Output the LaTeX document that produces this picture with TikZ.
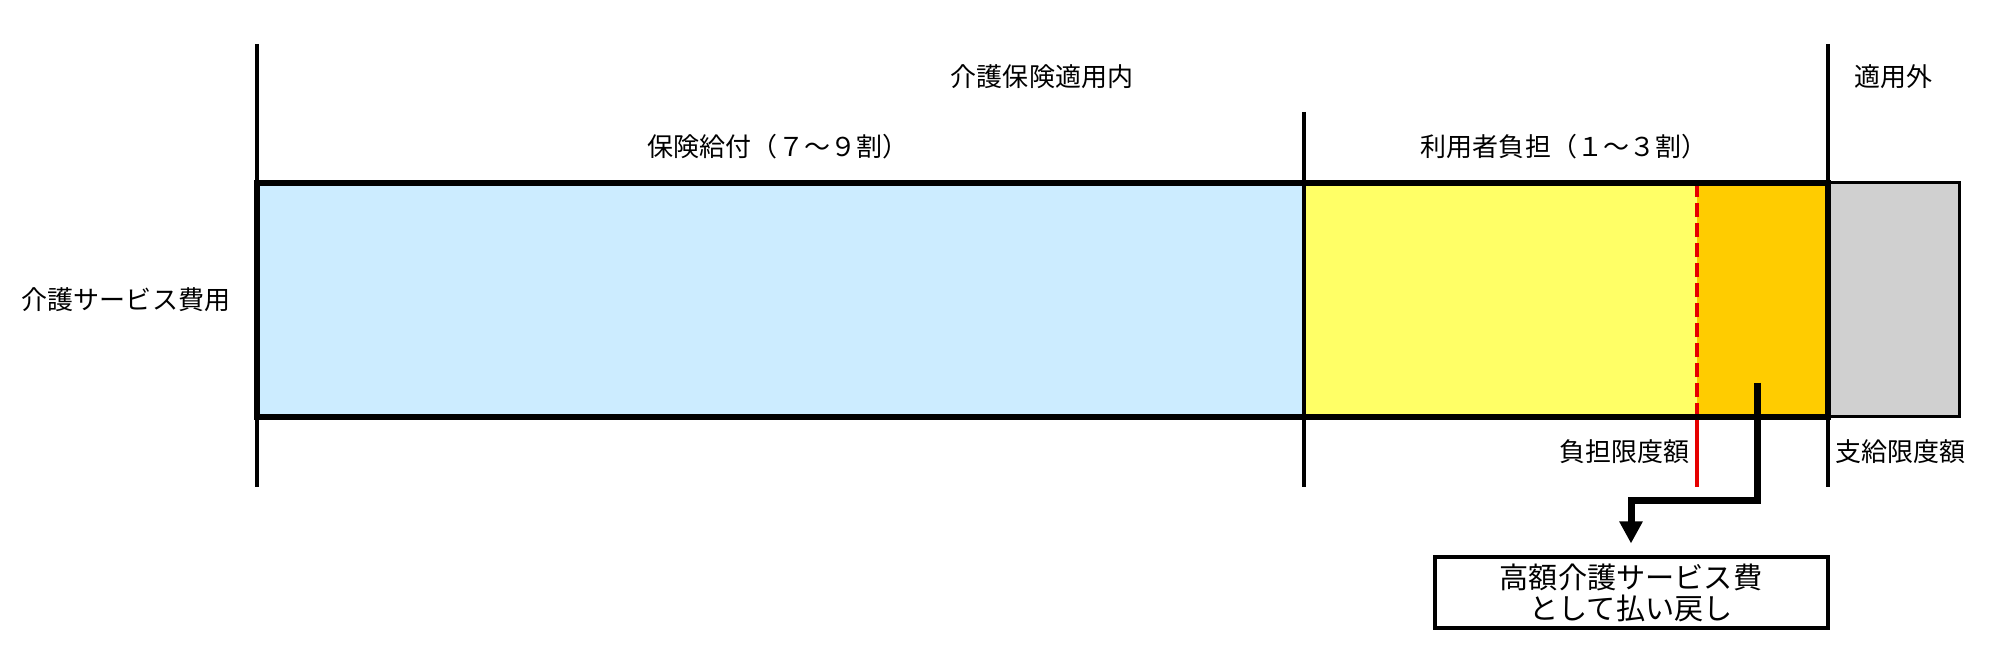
\documentclass[tikz,border=0pt]{standalone}
\usepackage{fontspec}
\setmainfont{Noto Sans CJK JP}
\usepackage{tikz}
\usetikzlibrary{arrows.meta}

\definecolor{hokenblue}{RGB}{204,236,255}
\definecolor{futanyellow}{RGB}{255,255,102}
\definecolor{kougakuorange}{RGB}{255,204,0}
\definecolor{gaigray}{RGB}{208,208,208}
\definecolor{gendored}{RGB}{230,0,0}

\begin{document}
\begin{tikzpicture}[
    txt/.style={font=\fontsize{7.4}{8.6}\selectfont, inner sep=0pt},
    bigtxt/.style={font=\fontsize{8.3}{8.9}\selectfont, inner sep=0pt, align=center},
    divline/.style={line width=0.04cm},
    barline/.style={line width=0.065cm},
    backarrow/.style={line width=0.07cm, -{Triangle[width=0.22cm,length=0.22cm]}, shorten >=0.12cm}
]
    \useasboundingbox (0,0) rectangle (20,6.53);

    % 帯グラフ
    \fill[hokenblue] (2.57,2.36) rectangle (13.04,4.70);
    \fill[futanyellow] (13.04,2.36) rectangle (16.97,4.70);
    \fill[kougakuorange] (16.97,2.36) rectangle (18.28,4.70);
    \draw[line width=0.03cm, fill=gaigray] (18.28,2.36) rectangle (19.59,4.70);

    % 区切り線
    \draw[divline] (2.57,6.09) -- (2.57,1.66);
    \draw[divline] (13.04,5.41) -- (13.04,1.66);
    \draw[divline] (18.28,6.09) -- (18.28,1.66);
    \draw[divline, gendored, dash pattern=on 0.14cm off 0.06cm] (16.97,4.70) -- (16.97,2.36);
    \draw[divline, gendored] (16.97,2.36) -- (16.97,1.66);

    \draw[barline] (2.57,2.36) rectangle (18.28,4.70);

    % ラベル
    \node[txt] (tekiyounai) at (10.42,5.76) {介護保険適用内};
    \node[txt] (tekiyougai) at (18.93,5.76) {適用外};
    \node[txt] (hokenkyufu) at (7.78,5.06) {保険給付（７〜９割）};
    \node[txt] (riyoushafutan) at (15.64,5.06) {利用者負担（１〜３割）};
    \node[txt] (servicehiyou) at (1.26,3.53) {介護サービス費用};
    \node[txt, anchor=east] (futangendo) at (16.90,2.01) {負担限度額};
    \node[txt, anchor=west] (shikyugendo) at (18.35,2.01) {支給限度額};

    \node[draw, line width=0.04cm, minimum width=3.93cm, minimum height=0.71cm, inner sep=0pt] (haraimodoshi) at (16.31,0.60) {};
    \node[bigtxt] (haraimodoshitxt) at (haraimodoshi.center) {高額介護サービス費\\として払い戻し};

    % 払い戻しの矢印
    \coordinate (kougaku) at (17.57,2.70);
    \draw[backarrow] (kougaku) -- ++(0,-1.18) -| (haraimodoshi.north);
\end{tikzpicture}
\end{document}
